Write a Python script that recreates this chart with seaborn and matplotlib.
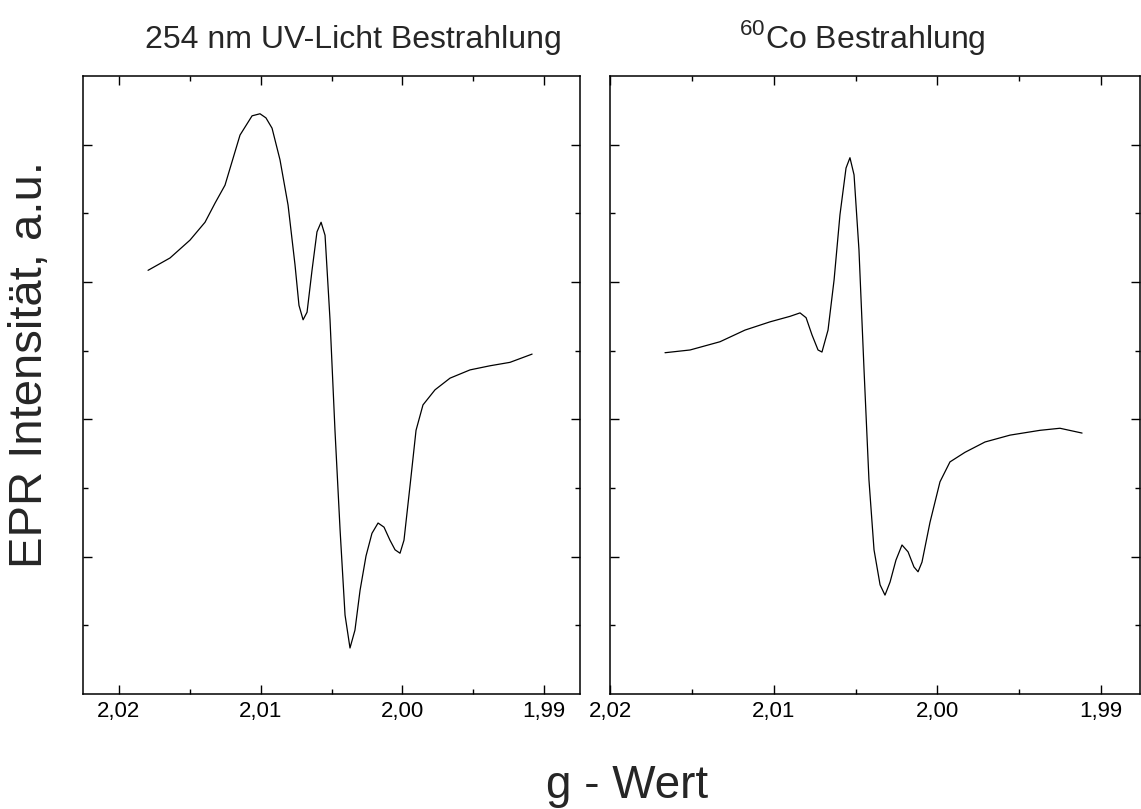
import matplotlib
matplotlib.use("Agg")
import matplotlib.pyplot as plt
import seaborn as sns
import pandas as pd
from matplotlib.ticker import FixedLocator, FuncFormatter

# ---- data ----
g_uv = [2.01795, 2.01640, 2.01499, 2.01393, 2.01322, 2.01252, 2.01146, 2.01061, 2.01005,
        2.00963, 2.00920, 2.00864, 2.00807, 2.00758, 2.00730, 2.00701, 2.00673, 2.00638,
        2.00603, 2.00574, 2.00546, 2.00511, 2.00476, 2.00440, 2.00405, 2.00370, 2.00335,
        2.00299, 2.00257, 2.00215, 2.00172, 2.00130, 2.00088, 2.00052, 2.00017, 1.99989,
        1.99946, 1.99904, 1.99855, 1.99770, 1.99664, 1.99523, 1.99382, 1.99241, 1.99085]
int_uv = [6.17, 6.35, 6.61, 6.87, 7.15, 7.41, 8.14, 8.42, 8.45,
          8.39, 8.24, 7.78, 7.12, 6.25, 5.66, 5.45, 5.56, 6.17,
          6.73, 6.87, 6.68, 5.45, 3.84, 2.39, 1.15, 0.67, 0.93,
          1.51, 2.01, 2.34, 2.49, 2.43, 2.24, 2.10, 2.05, 2.24,
          3.04, 3.84, 4.21, 4.43, 4.60, 4.72, 4.78, 4.83, 4.95]

g_co = [2.01664, 2.01511, 2.01328, 2.01175, 2.01022, 2.00900, 2.00839, 2.00802, 2.00766,
        2.00729, 2.00705, 2.00668, 2.00631, 2.00595, 2.00558, 2.00534, 2.00509, 2.00479,
        2.00448, 2.00418, 2.00387, 2.00350, 2.00320, 2.00289, 2.00253, 2.00216, 2.00179,
        2.00143, 2.00118, 2.00094, 2.00045, 1.99984, 1.99923, 1.99831, 1.99709, 1.99556,
        1.99373, 1.99251, 1.99116]
int_co = [4.97, 5.01, 5.13, 5.30, 5.42, 5.50, 5.55, 5.48, 5.23,
          5.01, 4.98, 5.30, 6.03, 6.98, 7.66, 7.81, 7.56, 6.47,
          4.72, 3.12, 2.10, 1.59, 1.44, 1.63, 1.95, 2.17, 2.07,
          1.85, 1.78, 1.92, 2.50, 3.09, 3.38, 3.52, 3.67, 3.77,
          3.84, 3.87, 3.80]

titles = ["254 nm UV-Licht Bestrahlung", r"$^{60}$Co Bestrahlung"]
x_major = [2.02, 2.01, 2.00, 1.99]
x_minor = [2.015, 2.005, 1.995]
y_major = [2, 4, 6, 8]
y_minor = [1, 3, 5, 7]

sns.set_theme(style="ticks")
plt.rcParams["font.family"] = ["Liberation Sans", "DejaVu Sans"]
plt.rcParams["mathtext.fontset"] = "custom"
plt.rcParams["mathtext.rm"] = "Liberation Sans"

W, H = 1141, 809
fig = plt.figure(figsize=(W / 100, H / 100), dpi=100)
fig.patch.set_facecolor("white")

def rect(x0, x1, ytop, ybot):
    return [x0 / W, 1 - ybot / H, (x1 - x0) / W, (ybot - ytop) / H]

ax1 = fig.add_axes(rect(83, 580, 76, 694))
ax2 = fig.add_axes(rect(610, 1140, 76, 694))

df1 = pd.DataFrame({"g": g_uv, "I": int_uv})
df2 = pd.DataFrame({"g": g_co, "I": int_co})
sns.lineplot(data=df1, x="g", y="I", ax=ax1, color="black", lw=0.9, sort=False, estimator=None)
sns.lineplot(data=df2, x="g", y="I", ax=ax2, color="black", lw=0.9, sort=False, estimator=None)

ax1.set_xlim(2.02254, 1.98747)
ax2.set_xlim(2.02, 1.98762)

fmt = FuncFormatter(lambda v, p: f"{v:.2f}".replace(".", ","))
for ax in (ax1, ax2):
    ax.set_facecolor("white")
    ax.set_ylim(0, 9)
    ax.xaxis.set_major_locator(FixedLocator(x_major))
    ax.xaxis.set_minor_locator(FixedLocator(x_minor))
    ax.yaxis.set_major_locator(FixedLocator(y_major))
    ax.yaxis.set_minor_locator(FixedLocator(y_minor))
    ax.xaxis.set_major_formatter(fmt)
    ax.set_yticklabels([])
    ax.tick_params(which="both", direction="in", top=True, right=True, width=1.0, color="black")
    ax.tick_params(which="major", length=6.5)
    ax.tick_params(which="minor", length=3.6)
    ax.tick_params(axis="x", labelsize=16, pad=5, labelcolor="black")
    ax.set_xlabel("")
    ax.set_ylabel("")
    for s in ax.spines.values():
        s.set_visible(True)
        s.set_linewidth(1.1)
        s.set_color("black")

fig.text(353 / W, 1 - 48 / H, titles[0], ha="center", va="baseline", fontsize=23)
fig.text(862 / W, 1 - 48 / H, titles[1], ha="center", va="baseline", fontsize=23)
fig.text(30 / W, 1 - 365 / H, "EPR Intensität, a.u.", rotation=90, ha="center", va="center", fontsize=34)
fig.text(627 / W, 1 - 798 / H, "g - Wert", ha="center", va="baseline", fontsize=33)

fig.savefig("out.png", dpi=100, facecolor="white")
